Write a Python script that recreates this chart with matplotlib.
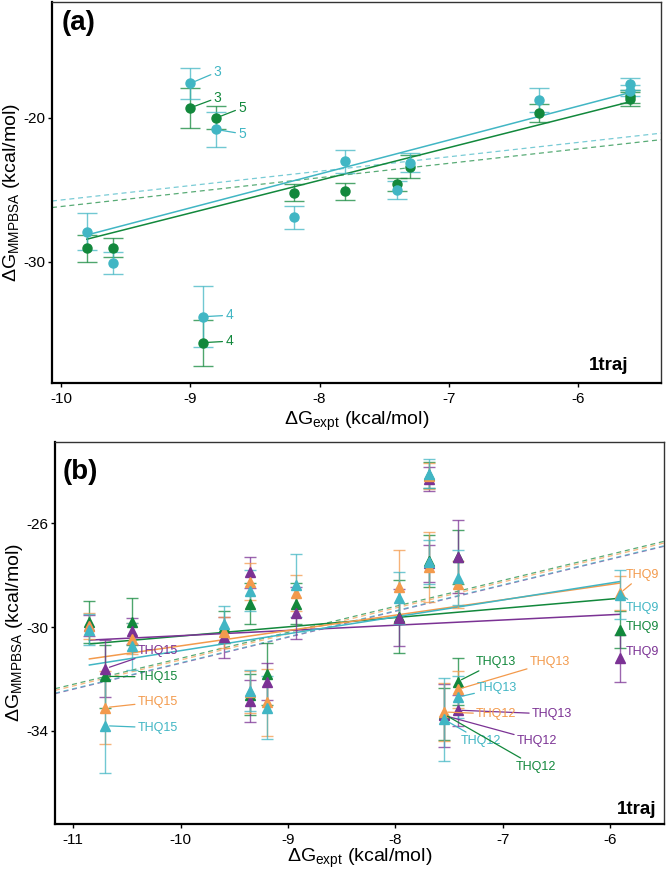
import numpy as np
import matplotlib.pyplot as plt

plt.rcParams['font.family'] = ['Liberation Sans', 'DejaVu Sans']
plt.rcParams['mathtext.default'] = 'regular'
plt.rcParams['axes.unicode_minus'] = False

# ---- panel (a) data ----
xA = [-9.8, -9.6, -9.0, -8.9, -8.8, -8.2, -7.8, -7.4, -7.3, -6.3, -5.6, -5.6]
greenA = [-29.05, -29.0, -19.3, -35.6, -20.0, -25.2, -25.1, -24.6, -23.4, -19.65, -18.5, -18.7]
greenErrA = [0.95, 0.65, 1.4, 1.6, 0.8, 0.6, 0.6, 0.45, 0.8, 0.6, 0.45, 0.5]
cyanA = [-27.9, -30.07, -17.6, -33.8, -20.8, -26.9, -23.0, -25.0, -23.1, -18.75, -17.65, -18.1]
cyanErrA = [1.3, 0.75, 1.1, 2.1, 1.2, 0.8, 0.8, 0.6, 0.65, 0.85, 0.4, 0.4]
# (series, point index, text, text x, text y)
labelsA = [('cyan', 2, '3', -8.82, -16.8), ('green', 2, '3', -8.82, -18.6),
           ('green', 4, '5', -8.63, -19.3), ('cyan', 4, '5', -8.63, -21.1),
           ('cyan', 3, '4', -8.73, -33.7), ('green', 3, '4', -8.73, -35.5)]

# ---- panel (b) data ----
xB = [-10.85, -10.7, -10.45, -9.6, -9.35, -9.35, -9.2, -8.93, -7.97, -7.69, -7.69, -7.42, -7.42, -7.55, -5.91]
greenB = [-29.8, -31.9, -29.8, -30.0, -29.1, -32.6, -31.8, -29.1, -29.6, -24.15, -27.45, -27.3, -32.1, -33.35, -30.1]
greenErrB = [0.8, 1.2, 0.9, 0.6, 0.8, 0.8, 1.2, 0.8, 1.4, 0.5, 1.0, 1.05, 0.9, 1.0, 0.7]
purpleB = [-29.95, -31.6, -30.15, -30.4, -27.9, -32.85, -32.1, -29.45, -29.65, -24.3, -27.55, -27.3, -33.2, -33.4, -31.2]
purpleErrB = [0.4, 1.1, 0.5, 0.8, 0.6, 0.8, 0.7, 1.0, 1.1, 0.45, 0.7, 1.4, 0.6, 1.2, 0.9]
orangeB = [-29.95, -33.1, -30.45, -30.2, -28.25, -32.5, -32.9, -28.7, -28.45, -24.2, -27.7, -28.35, -32.4, -33.27, -28.7]
orangeErrB = [0.5, 1.4, 0.6, 0.6, 0.7, 0.8, 1.3, 0.7, 1.4, 0.5, 1.35, 0.9, 0.7, 1.1, 0.65]
cyanB = [-30.1, -33.8, -30.75, -29.9, -28.6, -32.45, -33.1, -28.4, -28.9, -24.1, -27.5, -28.1, -32.7, -33.55, -28.75]
cyanErrB = [0.6, 1.8, 0.9, 0.7, 0.8, 0.8, 1.2, 1.2, 1.0, 0.55, 0.85, 1.05, 0.8, 1.6, 0.95]
labelsB = [('purple', 1, 'THQ15', -10.40, -30.92), ('green', 1, 'THQ15', -10.40, -31.92),
           ('orange', 1, 'THQ15', -10.40, -32.88), ('cyan', 1, 'THQ15', -10.40, -33.88),
           ('green', 12, 'THQ13', -7.25, -31.35), ('orange', 12, 'THQ13', -6.75, -31.35),
           ('cyan', 12, 'THQ13', -7.24, -32.35), ('purple', 12, 'THQ13', -6.73, -33.35),
           ('orange', 13, 'THQ12', -7.25, -33.35), ('cyan', 13, 'THQ12', -7.39, -34.38),
           ('purple', 13, 'THQ12', -6.87, -34.38), ('green', 13, 'THQ12', -6.88, -35.38),
           ('orange', 14, 'THQ9', -5.86, -28.0), ('cyan', 14, 'THQ9', -5.86, -29.27),
           ('green', 14, 'THQ9', -5.86, -30.0), ('purple', 14, 'THQ9', -5.86, -30.96)]

colors = {'green': '#12883c', 'cyan': '#41b6c4', 'orange': '#f39a4c', 'purple': '#7b3294'}


def drawPanel(ax, x, series, labels, marker, ms, capsize, xlim, labelSize):
    x = np.array(x)
    for name, y, err in series:
        y = np.array(y)
        c = colors[name]
        # dashed reference line of slope 1 through the mean
        off = np.mean(y - x)
        xx = np.array(xlim)
        ax.plot(xx, xx + off, ls=(0, (4, 3)), color=c, lw=0.9, alpha=0.7, zorder=1)
        # least squares fit over the data range
        k, b = np.polyfit(x, y, 1)
        xf = np.array([x.min(), x.max()])
        ax.plot(xf, k * xf + b, color=c, lw=1.1, zorder=2)
    for name, y, err in series:
        c = colors[name]
        ax.errorbar(x, y, yerr=err, fmt='none', ecolor=c, elinewidth=1.0,
                    capsize=capsize, capthick=1.0, alpha=0.75, zorder=3)
        ax.plot(x, y, marker, color=c, ms=ms, ls='none', zorder=4)
    ydict = {name: y for name, y, err in series}
    for name, i, txt, tx, ty in labels:
        c = colors[name]
        ax.annotate(txt, xy=(x[i], ydict[name][i]), xytext=(tx, ty), color=c,
                    fontsize=labelSize, ha='left', va='center', zorder=5,
                    arrowprops=dict(arrowstyle='-', color=c, lw=0.9, shrinkA=0, shrinkB=3))
    ax.set_xlim(xlim)
    for s in ax.spines.values():
        s.set_color('#333333')
        s.set_linewidth(1.0)
    ax.spines['left'].set_color('black')
    ax.spines['bottom'].set_color('black')
    ax.spines['left'].set_linewidth(1.6)
    ax.spines['bottom'].set_linewidth(1.6)
    ax.tick_params(direction='out', length=3, width=1, labelsize=11, colors='black')
    ax.tick_params(axis='y', pad=1.5)
    ax.set_ylabel(r'$\Delta G_{MMPBSA}$ (kcal/mol)', fontsize=14)


fig = plt.figure(figsize=(6.66, 8.69), dpi=100)

axA = fig.add_axes([0.078, 0.5593, 0.9145, 0.4384])
drawPanel(axA, xA, [('green', greenA, greenErrA), ('cyan', cyanA, cyanErrA)],
          labelsA, 'o', 6.5, 7, (-10.07, -5.36), 10)
axA.set_ylim(-38.4, -11.95)
axA.set_xticks([-10, -9, -8, -7, -6])
axA.set_yticks([-20, -30])
axA.set_xlabel(r'$\Delta G_{expt}$ (kcal/mol)', fontsize=14, labelpad=3)
axA.yaxis.set_label_coords(-0.066, 0.5)
axA.yaxis.label.set_va('center')
axA.text(0.016, 0.979, '(a)', transform=axA.transAxes, fontsize=20,
         fontweight='bold', ha='left', va='top')
axA.text(0.947, 0.034, '1traj', transform=axA.transAxes, fontsize=13.5,
         fontweight='bold', ha='right', va='baseline')

axB = fig.add_axes([0.0826, 0.0518, 0.9144, 0.4396])
drawPanel(axB, xB, [('green', greenB, greenErrB), ('purple', purpleB, purpleErrB),
                    ('orange', orangeB, orangeErrB), ('cyan', cyanB, cyanErrB)],
          labelsB, '^', 7.5, 4, (-11.17, -5.50), 9)
axB.set_ylim(-37.58, -22.88)
axB.set_xticks([-11, -10, -9, -8, -7, -6])
axB.set_yticks([-26, -30, -34])
axB.set_xlabel(r'$\Delta G_{expt}$ (kcal/mol)', fontsize=14, labelpad=0)
axB.yaxis.set_label_coords(-0.066, 0.5)
axB.yaxis.label.set_va('center')
axB.text(0.012, 0.955, '(b)', transform=axB.transAxes, fontsize=20,
         fontweight='bold', ha='left', va='top')
axB.text(0.988, 0.026, '1traj', transform=axB.transAxes, fontsize=13.5,
         fontweight='bold', ha='right', va='baseline')

fig.savefig('out.png', dpi=100)
